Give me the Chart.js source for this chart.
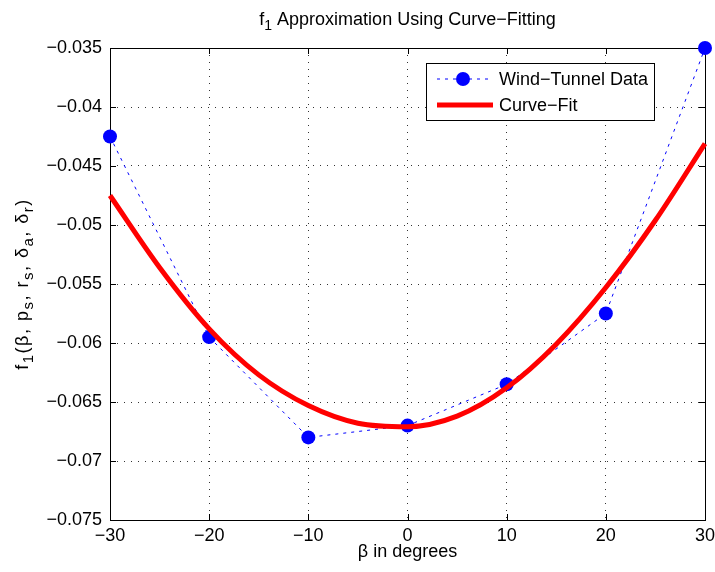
<!DOCTYPE html>
<html>
<head>
<meta charset="utf-8">
<script src="https://cdn.jsdelivr.net/npm/chart.js@4/dist/chart.umd.min.js"></script>
<style>
  html, body { margin: 0; padding: 0; background: #fff; }
</style>
</head>
<body>
<canvas id="chart" width="715" height="572"></canvas>
<script>
// wind-tunnel samples
const betaData = [-30, -20, -10, 0, 10, 20, 30];
const windTunnel = [-0.0425, -0.0595, -0.068, -0.067, -0.0635, -0.0575, -0.035];

// curve-fit
const betaFit = [-30, -25, -20, -15, -10, -5, 0, 5, 10, 15, 20, 25, 30];
const curveFit = [-0.0475, -0.0536, -0.0588, -0.0627, -0.0653, -0.0668, -0.0671,
                  -0.0662, -0.0638, -0.0601, -0.0553, -0.0496, -0.0431];

const xTicks = [-30, -20, -10, 0, 10, 20, 30];
const yTicks = [-0.075, -0.07, -0.065, -0.06, -0.055, -0.05, -0.045, -0.04, -0.035];

const FONT = "'Liberation Sans', Arial, Helvetica, sans-serif";
const SIZE = 18;
const fmt = v => String(v).replace('-', '\u2212');

// draws text made of [string, isSubscript] pieces
function richText(ctx, parts, x, y, size, align, subRatio) {
  const subSize = Math.round(size * (subRatio || 0.8));
  let total = 0;
  parts.forEach(p => {
    ctx.font = (p[1] ? subSize : size) + 'px ' + FONT;
    total += ctx.measureText(p[0]).width;
  });
  let cx = align === 'center' ? x - total / 2 : x;
  ctx.textBaseline = 'alphabetic';
  ctx.textAlign = 'left';
  parts.forEach(p => {
    ctx.font = (p[1] ? subSize : size) + 'px ' + FONT;
    ctx.fillText(p[0], cx, y + (p[1] ? size * 0.3 : 0));
    cx += ctx.measureText(p[0]).width;
  });
}

const matlabLook = {
  id: 'matlabLook',
  beforeDatasetsDraw(chart) {
    const ctx = chart.ctx;
    const a = chart.chartArea;
    const xs = chart.scales.x, ys = chart.scales.y;
    ctx.save();
    ctx.strokeStyle = '#000';
    ctx.lineWidth = 1;
    ctx.beginPath();
    xTicks.forEach(t => {
      const px = Math.round(xs.getPixelForValue(t)) + 0.5;
      ctx.moveTo(px, a.bottom); ctx.lineTo(px, a.bottom - 6);
      ctx.moveTo(px, a.top); ctx.lineTo(px, a.top + 6);
    });
    yTicks.forEach(t => {
      const py = Math.round(ys.getPixelForValue(t)) + 0.5;
      ctx.moveTo(a.left, py); ctx.lineTo(a.left + 6, py);
      ctx.moveTo(a.right, py); ctx.lineTo(a.right - 6, py);
    });
    ctx.stroke();
    ctx.strokeRect(Math.round(a.left) + 0.5, Math.round(a.top) + 0.5,
                   Math.round(a.right - a.left), Math.round(a.bottom - a.top));
    ctx.restore();
  },
  afterDraw(chart) {
    const ctx = chart.ctx;
    const a = chart.chartArea;
    ctx.save();
    ctx.fillStyle = '#000';
    const midX = (a.left + a.right) / 2;
    // title
    richText(ctx, [['f', false], ['1', true], [' Approximation Using Curve\u2212Fitting', false]],
             midX, 25, SIZE, 'center');
    // x label
    richText(ctx, [['\u03b2 in degrees', false]], midX, 557, SIZE, 'center');
    // y label (tex-style, a bit looser)
    ctx.save();
    ctx.translate(28, (a.top + a.bottom) / 2);
    ctx.rotate(-Math.PI / 2);
    ctx.letterSpacing = '1.5px';
    richText(ctx, [['f', false], ['1', true], ['(\u03b2, p', false], ['s', true], [', r', false],
                   ['s', true], [', \u03b4', false], ['a', true], [', \u03b4', false], ['r', true], [')', false]],
             0, 0, SIZE, 'center', 0.85);
    ctx.letterSpacing = '0px';
    ctx.restore();

    // legend
    const lx = 426, ly = 63, lw = 228, lh = 57;
    ctx.fillStyle = '#fff';
    ctx.fillRect(lx, ly, lw, lh);
    ctx.strokeStyle = '#000';
    ctx.lineWidth = 1;
    ctx.strokeRect(lx + 0.5, ly + 0.5, lw, lh);

    const blue = chart.data.datasets[0];
    const red = chart.data.datasets[1];
    const row1 = ly + 16, row2 = ly + 42;
    ctx.strokeStyle = blue.borderColor;
    ctx.lineWidth = blue.borderWidth;
    ctx.setLineDash(blue.borderDash);
    ctx.beginPath(); ctx.moveTo(437, row1); ctx.lineTo(490, row1); ctx.stroke();
    ctx.setLineDash([]);
    ctx.fillStyle = blue.pointBackgroundColor;
    ctx.beginPath(); ctx.arc(463, row1, blue.pointRadius, 0, Math.PI * 2); ctx.fill();
    ctx.strokeStyle = red.borderColor;
    ctx.lineWidth = red.borderWidth;
    ctx.beginPath(); ctx.moveTo(437, row2); ctx.lineTo(493, row2); ctx.stroke();

    ctx.fillStyle = '#000';
    ctx.font = SIZE + 'px ' + FONT;
    ctx.textBaseline = 'middle';
    ctx.textAlign = 'left';
    ctx.fillText('Wind\u2212Tunnel Data', 499, row1 + 1);
    ctx.fillText('Curve\u2212Fit', 499, row2 + 1);
    ctx.restore();
  }
};

new Chart(document.getElementById('chart'), {
  type: 'line',
  data: {
    datasets: [{
      label: 'Wind\u2212Tunnel Data',
      data: betaData.map((b, i) => ({ x: b, y: windTunnel[i] })),
      borderColor: '#0000ff',
      borderWidth: 1,
      borderDash: [3, 5],
      pointRadius: 7,
      pointBackgroundColor: '#0000ff',
      pointBorderWidth: 0,
      tension: 0,
      clip: false,
      order: 1
    }, {
      label: 'Curve\u2212Fit',
      data: betaFit.map((b, i) => ({ x: b, y: curveFit[i] })),
      borderColor: '#ff0000',
      borderWidth: 5,
      pointRadius: 0,
      cubicInterpolationMode: 'monotone',
      clip: false,
      order: 0
    }]
  },
  options: {
    responsive: false,
    animation: false,
    devicePixelRatio: 1,
    layout: { padding: { top: 48, right: 10, left: 0, bottom: 0 } },
    plugins: { legend: { display: false }, title: { display: false }, tooltip: { enabled: false } },
    scales: {
      x: {
        type: 'linear',
        min: -30, max: 30,
        afterBuildTicks: s => { s.ticks = xTicks.map(v => ({ value: v })); },
        afterFit: s => { s.height = 52; s.paddingLeft = 0; s.paddingRight = 0; },
        ticks: { callback: v => fmt(v), color: '#000', padding: 5, maxRotation: 0,
                 font: { family: FONT, size: SIZE } },
        grid: { color: '#333', lineWidth: 1, drawTicks: false },
        border: { display: false, dash: [1, 6] }
      },
      y: {
        type: 'linear',
        min: -0.075, max: -0.035,
        afterBuildTicks: s => { s.ticks = yTicks.map(v => ({ value: v })); },
        afterFit: s => { s.width = 110; s.paddingTop = 0; s.paddingBottom = 0; },
        ticks: { callback: v => fmt(v), color: '#000', padding: 8,
                 font: { family: FONT, size: SIZE } },
        grid: { color: '#333', lineWidth: 1, drawTicks: false },
        border: { display: false, dash: [1, 6] }
      }
    }
  },
  plugins: [matlabLook]
});
</script>
</body>
</html>
